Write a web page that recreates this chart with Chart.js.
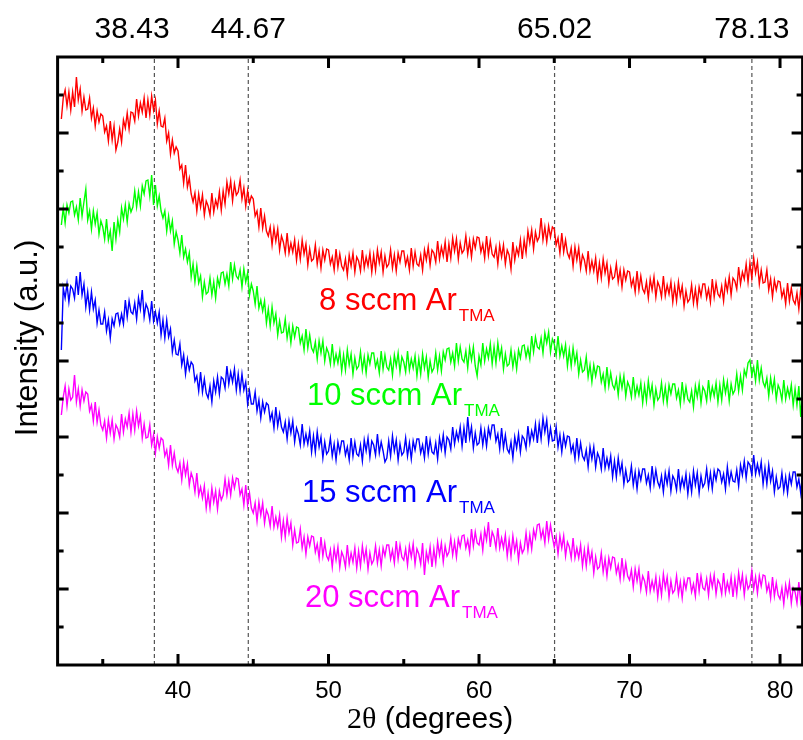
<!DOCTYPE html>
<html>
<head>
<meta charset="utf-8">
<script src="https://cdn.jsdelivr.net/npm/chart.js@4.4.1/dist/chart.umd.min.js"></script>
<style>
  html, body { margin: 0; padding: 0; background: #fff; }
  canvas { display: block; }
</style>
</head>
<body>
<canvas id="xrd" width="803" height="740"></canvas>
<script>
// XRD scans, 2theta sampled every 0.125 deg starting at 32.25 deg
var scanStart = 32.25;
var scanStep = 0.125;

// intensity (a.u.), stacked offsets as in the figure; one row per degree
var sccm8 = [
  546, 567, 575, 559, 573, 555,
  573, 558, 588, 565, 576, 554, 568, 555,
  556, 567, 547, 557, 539, 554, 543, 551,
  549, 533, 539, 524, 544, 525, 539, 515,
  523, 536, 523, 545, 537, 552, 536, 553,
  552, 544, 566, 549, 562, 553, 567, 547,
  565, 550, 569, 555, 565, 541, 554, 539,
  538, 547, 524, 532, 511, 525, 512, 518,
  514, 496, 500, 482, 500, 478, 487, 471,
  463, 472, 454, 471, 458, 470, 450, 464,
  459, 450, 472, 453, 465, 458, 473, 455,
  474, 461, 483, 471, 484, 464, 481, 470,
  473, 485, 466, 477, 459, 474, 462, 469,
  466, 449, 454, 438, 457, 437, 449, 434,
  429, 438, 420, 437, 424, 436, 415, 429,
  423, 412, 432, 412, 422, 413, 425, 405,
  421, 406, 425, 411, 421, 400, 416, 404,
  406, 420, 401, 414, 397, 415, 405, 416,
  415, 401, 408, 395, 416, 398, 411, 399,
  395, 406, 390, 410, 399, 412, 393, 408,
  404, 394, 415, 397, 408, 399, 412, 393,
  410, 395, 415, 402, 413, 393, 409, 398,
  401, 415, 397, 410, 394, 412, 403, 414,
  414, 400, 408, 395, 417, 399, 413, 401,
  399, 410, 395, 415, 405, 418, 400, 415,
  412, 403, 424, 406, 418, 409, 423, 403,
  421, 407, 427, 414, 426, 406, 422, 412,
  415, 429, 411, 424, 408, 426, 417, 428,
  427, 413, 421, 407, 429, 410, 424, 411,
  408, 418, 401, 420, 408, 420, 401, 415,
  410, 396, 423, 405, 417, 410, 425, 406,
  425, 412, 434, 422, 435, 416, 433, 424,
  428, 447, 425, 438, 423, 439, 428, 438,
  436, 420, 427, 412, 432, 413, 425, 412,
  407, 417, 399, 418, 405, 417, 397, 410,
  405, 394, 414, 394, 404, 394, 407, 386,
  402, 387, 406, 392, 402, 382, 397, 386,
  388, 401, 383, 395, 378, 395, 385, 394,
  393, 379, 386, 373, 394, 375, 389, 376,
  372, 383, 367, 386, 375, 388, 368, 383,
  378, 368, 389, 369, 380, 371, 383, 363,
  379, 364, 383, 369, 379, 359, 374, 363,
  366, 380, 362, 376, 360, 378, 369, 381,
  381, 367, 376, 363, 386, 368, 382, 371,
  368, 379, 364, 384, 374, 388, 370, 387,
  384, 376, 398, 381, 393, 386, 401, 383,
  402, 387, 407, 392, 403, 381, 395, 382,
  383, 395, 375, 386, 368, 385, 375, 384,
  383, 368, 375, 361, 382, 364, 377, 365,
  361, 372, 356, 376, 365, 378, 359, 374
];
var sccm10 = [
  440, 457, 442, 460, 452, 463,
  464, 450, 458, 445, 467, 449, 463, 476,
  445, 454, 436, 454, 441, 452, 431, 444,
  438, 426, 446, 425, 434, 414, 443, 426,
  445, 433, 457, 446, 460, 443, 461, 453,
  458, 474, 458, 473, 459, 479, 471, 484,
  485, 469, 490, 460, 480, 459, 469, 454,
  447, 454, 434, 449, 434, 444, 421, 433,
  425, 412, 430, 408, 416, 403, 412, 388,
  401, 383, 399, 382, 389, 368, 383, 371,
  373, 387, 370, 383, 367, 387, 379, 392,
  393, 381, 391, 379, 403, 386, 400, 389,
  386, 395, 378, 396, 383, 392, 370, 381,
  374, 361, 379, 357, 365, 354, 364, 342,
  356, 339, 358, 342, 351, 330, 344, 332,
  333, 346, 327, 339, 322, 339, 328, 338,
  337, 322, 329, 315, 336, 317, 330, 317,
  313, 323, 306, 324, 312, 324, 304, 317,
  312, 301, 321, 301, 311, 302, 314, 294,
  310, 295, 315, 300, 311, 291, 307, 296,
  299, 313, 295, 308, 292, 310, 301, 312,
  312, 298, 305, 292, 314, 296, 310, 298,
  295, 306, 290, 310, 299, 312, 293, 308,
  303, 293, 314, 295, 306, 297, 309, 289,
  306, 291, 311, 297, 308, 288, 304, 293,
  297, 312, 295, 309, 294, 313, 305, 316,
  317, 303, 312, 299, 322, 304, 318, 306,
  303, 314, 297, 317, 305, 318, 299, 289,
  309, 300, 322, 304, 316, 307, 321, 301,
  318, 302, 322, 307, 317, 296, 311, 299,
  301, 315, 298, 311, 296, 315, 307, 319,
  320, 308, 317, 306, 329, 313, 328, 318,
  316, 327, 312, 332, 322, 333, 313, 326,
  321, 310, 329, 309, 319, 309, 320, 299,
  315, 299, 317, 302, 312, 291, 305, 293,
  295, 308, 288, 300, 283, 300, 289, 299,
  298, 283, 291, 277, 298, 279, 292, 280,
  276, 286, 270, 289, 277, 289, 269, 283,
  278, 268, 288, 269, 279, 270, 282, 262,
  279, 264, 284, 269, 280, 260, 276, 265,
  268, 282, 264, 278, 262, 280, 271, 281,
  281, 267, 275, 261, 283, 265, 278, 266,
  263, 274, 258, 279, 268, 281, 262, 278,
  274, 264, 285, 267, 278, 269, 282, 263,
  280, 265, 285, 272, 283, 264, 281, 271,
  275, 291, 274, 289, 275, 295, 289, 302,
  305, 290, 298, 284, 305, 285, 297, 283,
  278, 287, 269, 287, 274, 286, 266, 280,
  275, 265, 285, 266, 277, 268, 280, 260,
  276, 260, 279, 248, 274, 254, 270, 258
];
var sccm15 = [
  315, 377, 367, 381, 363, 379,
  376, 367, 389, 370, 393, 370, 381, 358,
  373, 355, 373, 356, 365, 342, 355, 341,
  341, 353, 334, 345, 327, 346, 339, 351,
  352, 341, 351, 341, 365, 348, 364, 353,
  351, 362, 346, 367, 356, 375, 348, 361,
  356, 345, 364, 344, 353, 342, 353, 330,
  345, 327, 345, 328, 336, 313, 325, 311,
  310, 321, 300, 310, 291, 306, 295, 303,
  300, 284, 289, 274, 293, 273, 286, 272,
  267, 279, 263, 284, 273, 288, 271, 288,
  286, 277, 299, 281, 293, 283, 296, 275,
  291, 274, 291, 275, 283, 261, 274, 261,
  261, 273, 254, 265, 247, 263, 253, 262,
  260, 245, 252, 237, 258, 239, 251, 238,
  233, 243, 226, 244, 232, 244, 223, 237,
  231, 220, 241, 221, 231, 221, 234, 213,
  229, 213, 233, 218, 228, 207, 223, 211,
  214, 227, 209, 221, 205, 223, 213, 224,
  224, 210, 218, 205, 227, 209, 223, 211,
  209, 220, 204, 225, 214, 227, 208, 224,
  220, 210, 231, 212, 223, 214, 203, 207,
  224, 209, 229, 214, 225, 205, 221, 210,
  213, 227, 209, 222, 206, 224, 215, 226,
  226, 212, 220, 207, 229, 211, 225, 213,
  211, 222, 206, 227, 216, 230, 212, 228,
  225, 216, 238, 221, 233, 225, 238, 219,
  237, 222, 248, 227, 238, 217, 232, 220,
  222, 237, 220, 234, 219, 237, 228, 240,
  240, 224, 231, 216, 237, 217, 230, 216,
  212, 223, 207, 228, 217, 231, 213, 229,
  226, 217, 239, 222, 234, 226, 241, 222,
  241, 226, 247, 233, 245, 223, 237, 224,
  225, 238, 218, 230, 213, 230, 219, 229,
  228, 213, 220, 206, 227, 208, 222, 209,
  205, 215, 198, 218, 206, 218, 198, 212,
  207, 196, 217, 197, 207, 197, 209, 188,
  204, 188, 207, 192, 202, 181, 195, 183,
  185, 199, 180, 193, 176, 194, 185, 196,
  196, 182, 190, 177, 199, 181, 195, 183,
  178, 189, 173, 192, 181, 194, 174, 189,
  185, 175, 196, 176, 187, 178, 191, 171,
  188, 173, 194, 180, 192, 172, 189, 178,
  182, 196, 178, 192, 176, 194, 185, 196,
  194, 183, 191, 176, 198, 182, 193, 184,
  183, 195, 179, 200, 190, 204, 187, 203,
  200, 190, 210, 191, 201, 191, 203, 181,
  197, 181, 200, 184, 194, 173, 188, 176,
  178, 192, 174, 188, 172, 190, 181, 193,
  193, 178, 186, 172, 193, 174, 188, 175
];
var sccm20 = [
  250, 268, 279, 259, 276, 265,
  268, 290, 263, 276, 259, 275, 264, 273,
  271, 254, 260, 244, 263, 243, 255, 240,
  235, 244, 227, 245, 232, 245, 226, 240,
  236, 228, 251, 233, 246, 238, 252, 233,
  251, 235, 254, 239, 249, 227, 241, 227,
  228, 240, 220, 230, 212, 228, 217, 227,
  225, 209, 215, 200, 220, 200, 212, 198,
  193, 202, 185, 203, 190, 201, 180, 192,
  186, 173, 192, 170, 178, 167, 179, 157,
  172, 157, 177, 163, 174, 156, 174, 165,
  170, 186, 170, 184, 170, 187, 177, 187,
  186, 170, 176, 160, 180, 160, 172, 157,
  152, 162, 144, 163, 150, 162, 142, 155,
  150, 139, 159, 138, 148, 138, 150, 128,
  144, 128, 147, 132, 142, 120, 135, 122,
  123, 136, 117, 128, 111, 128, 119, 129,
  128, 113, 121, 107, 128, 109, 122, 109,
  105, 115,  98, 117, 105, 118,  98, 113,
  108,  98, 120, 101, 112, 103, 117,  97,
  114,  99, 119, 105, 116,  96, 112, 101,
  105, 119, 102, 115,  99, 117, 109, 120,
  120, 106, 115, 102, 124, 106, 120, 108,
  105, 116, 100, 119, 108, 121, 101, 116,
  111, 101, 122,  90, 113, 104, 118,  98,
  116, 102, 123, 110, 122, 103, 119, 109,
  113, 127, 110, 123, 108, 126, 118, 129,
  130, 117, 125, 113, 136, 119, 133, 122,
  120, 131, 115, 135, 125, 143, 118, 133,
  128, 117, 137, 117, 127, 117, 130, 109,
  125, 109, 129, 114, 124, 105, 122, 112,
  116, 132, 115, 130, 116, 135, 127, 140,
  141, 127, 135, 122, 144, 126, 140, 128,
  118, 128, 111, 129, 117, 129, 109, 123,
  118, 107, 127, 107, 117, 107, 120,  99,
  115,  99, 118, 103, 113,  92, 108,  96,
   98, 112,  93, 106,  89, 107,  97, 108,
  107,  92, 100,  86, 107,  88, 102,  89,
   85,  95,  78,  96,  84,  96,  76,  89,
   84,  73,  94,  74,  84,  75,  88,  68,
   85,  70,  91,  77,  88,  68,  84,  72,
   75,  89,  71,  83,  67,  85,  76,  87,
   87,  73,  81,  69,  92,  74,  89,  77,
   75,  86,  70,  89,  78,  90,  71,  85,
   81,  71,  92,  72,  83,  74,  88,  68,
   86,  71,  92,  78,  90,  70,  87,  76,
   80,  94,  76,  88,  72,  89,  79,  90,
   89,  74,  81,  67,  88,  69,  82,  70,
   66,  77,  61,  80,  69,  82,  62,  77,
   73,  62,  83,  63,  74,  65,  77,  57
];

var seriesNames = ['8 sccm Ar', '10 sccm Ar', '15 sccm Ar', '20 sccm Ar'];
var seriesColors = ['#ff0000', '#00ff00', '#0000ff', '#ff00ff'];

var peakPositions = [38.43, 44.67, 65.02, 78.13];
var peakLabels = ['38.43', '44.67', '65.02', '78.13'];
var xTickLabels = [40, 50, 60, 70, 80];

// where texts sit, in data units
var peakLabelX = [36.95, 44.67, 65.02, 78.13];
var seriesLabelPos = [[49.37, 355], [48.57, 260], [48.24, 163], [48.44, 58]];

var yMax = 608;

function toPoints(values) {
  return values.map(function (v, i) {
    return { x: scanStart + i * scanStep, y: v };
  });
}

var datasets = [sccm8, sccm10, sccm15, sccm20].map(function (vals, i) {
  return {
    label: seriesNames[i],
    data: toPoints(vals),
    borderColor: seriesColors[i],
    borderWidth: 1.4,
    pointRadius: 0,
    tension: 0
  };
});

peakPositions.forEach(function (p) {
  datasets.push({
    label: 'peak ' + p,
    data: [{ x: p, y: 0 }, { x: p, y: yMax }],
    borderColor: '#555',
    borderWidth: 1.2,
    borderDash: [4, 3],
    pointRadius: 0
  });
});

var FONT = "'Liberation Sans', Arial, sans-serif";

var framePlugin = {
  id: 'frame',
  afterDraw: function (chart) {
    var ctx = chart.ctx;
    var a = chart.chartArea;
    var xs = chart.scales.x, ys = chart.scales.y;
    ctx.save();
    ctx.strokeStyle = '#000';
    ctx.lineWidth = 3;
    ctx.strokeRect(a.left, a.top, a.right - a.left, a.bottom - a.top);

    // inward ticks
    ctx.beginPath();
    for (var t = 35; t <= 80; t += 5) {
      var px = xs.getPixelForValue(t);
      var len = (t % 10 === 0) ? 11 : 6;
      ctx.moveTo(px, a.bottom); ctx.lineTo(px, a.bottom - len);
      ctx.moveTo(px, a.top); ctx.lineTo(px, a.top + len);
    }
    for (var k = 1; k * 38 < yMax; k++) {
      var py = ys.getPixelForValue(k * 38);
      var l2 = (k % 2 === 0) ? 11 : 6;
      ctx.moveTo(a.left, py); ctx.lineTo(a.left + l2, py);
      ctx.moveTo(a.right, py); ctx.lineTo(a.right - l2, py);
    }
    ctx.stroke();

    ctx.fillStyle = '#000';
    ctx.textAlign = 'center';
    ctx.textBaseline = 'alphabetic';

    ctx.font = '24px ' + FONT;
    xTickLabels.forEach(function (v) {
      ctx.fillText(String(v), xs.getPixelForValue(v), 698);
    });

    ctx.font = '30px ' + FONT;
    peakLabels.forEach(function (s, i) {
      ctx.fillText(s, xs.getPixelForValue(peakLabelX[i]), 38);
    });

    // x title: 2θ (degrees)
    var cx = (a.left + a.right) / 2;
    ctx.font = '30px "Liberation Serif", serif';
    var w1 = ctx.measureText('2\u03b8').width;
    ctx.font = '30px ' + FONT;
    var w2 = ctx.measureText(' (degrees)').width;
    var x0 = cx - (w1 + w2) / 2;
    ctx.textAlign = 'left';
    ctx.font = '30px "Liberation Serif", serif';
    ctx.fillText('2\u03b8', x0, 728);
    ctx.font = '30px ' + FONT;
    ctx.fillText(' (degrees)', x0 + w1, 728);

    // y title
    ctx.save();
    ctx.translate(37, 338);
    ctx.rotate(-Math.PI / 2);
    ctx.textAlign = 'center';
    ctx.font = '31px ' + FONT;
    ctx.fillText('Intensity (a.u.)', 0, 0);
    ctx.restore();

    // series labels with TMA subscript
    seriesNames.forEach(function (name, i) {
      var lx = xs.getPixelForValue(seriesLabelPos[i][0]);
      var ly = ys.getPixelForValue(seriesLabelPos[i][1]);
      ctx.fillStyle = seriesColors[i];
      ctx.textAlign = 'left';
      ctx.font = '31px ' + FONT;
      ctx.fillText(name, lx, ly);
      var w = ctx.measureText(name).width;
      ctx.font = '17px ' + FONT;
      ctx.fillText('TMA', lx + w + 2, ly + 11);
    });
    ctx.restore();
  }
};

new Chart(document.getElementById('xrd'), {
  type: 'line',
  data: { datasets: datasets },
  options: {
    responsive: false,
    animation: false,
    layout: { padding: { left: 57.6, right: 0.4, top: 57, bottom: 75 } },
    plugins: { legend: { display: false }, tooltip: { enabled: false } },
    scales: {
      x: { type: 'linear', min: 32, max: 81.5, display: false },
      y: { type: 'linear', min: 0, max: yMax, display: false }
    }
  },
  plugins: [framePlugin]
});
</script>
</body>
</html>
